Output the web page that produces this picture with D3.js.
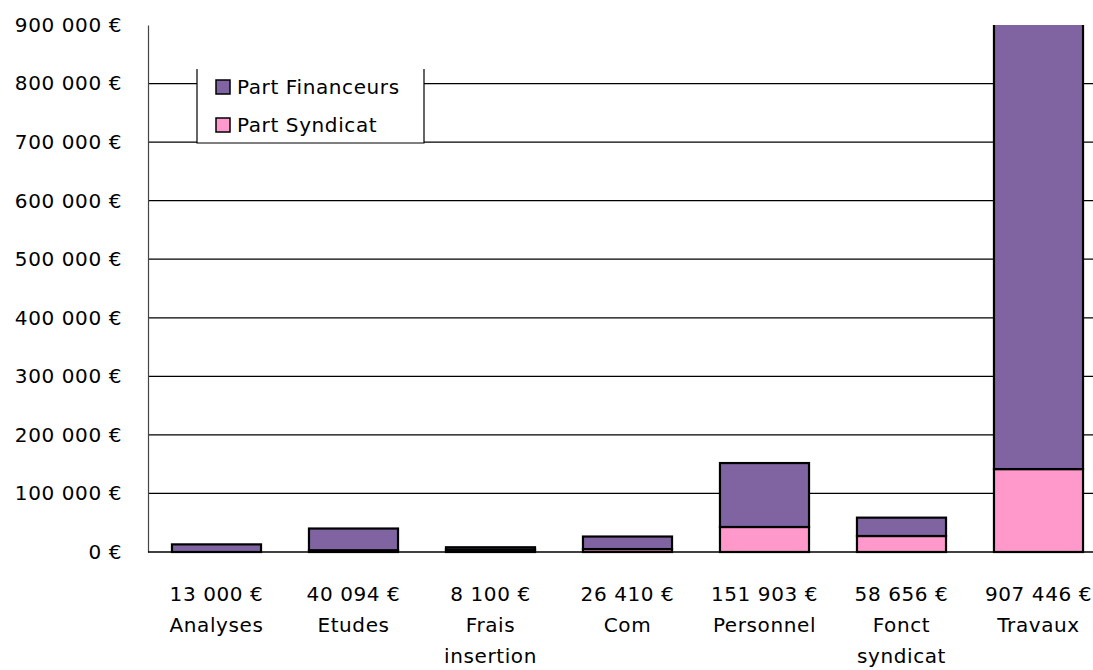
<!DOCTYPE html>
<html><head><meta charset="utf-8">
<script src="https://cdn.jsdelivr.net/npm/d3@7"></script>
<style>body{margin:0;background:#fff}svg{display:block}text{font-family:"DejaVu Sans",sans-serif;fill:#000;font-size:20px;letter-spacing:0.6px}</style>
</head><body><svg id="c" width="1093" height="670"></svg>
<script>
const categories = ["Analyses","Etudes","Frais insertion","Com","Personnel","Fonct syndicat","Travaux"];
const totals = [13000,40094,8100,26410,151903,58656,907446];
const partSyndicat = [0,3000,4000,5000,42700,27300,141600];
const partFinanceurs = totals.map((t,i)=>t-partSyndicat[i]);
const yTicks = [0,100000,200000,300000,400000,500000,600000,700000,800000,900000];
const seriesNames = ["Part Financeurs","Part Syndicat"];
const colors = {"Part Financeurs":"#8064A2","Part Syndicat":"#FF99CC"};

(function(){
const svg = d3.select("#c");
const pL = 148, pR = 1107, pT = 25, pB = 552;
const x = d3.scaleBand().domain(categories).range([pL,pR]).paddingInner(0.35).paddingOuter(0.175);
const y = d3.scaleLinear().domain([0,900000]).range([pB,pT]);
const fmt = v => (v===0?"0":d3.format(",")(v).replace(/,/g," ")) + " €";

svg.append("defs").append("clipPath").attr("id","plot").append("rect")
  .attr("x",pL).attr("y",pT).attr("width",1093-pL).attr("height",pB-pT+2);

// gridlines
svg.append("g").selectAll("line").data(yTicks.filter(d=>d>0 && d<900000)).join("line")
  .attr("x1",pL).attr("x2",1093).attr("y1",d=>y(d)).attr("y2",d=>y(d))
  .attr("stroke","#000").attr("stroke-width",1.2);

// y axis
const ya = svg.append("g").attr("transform",`translate(${pL},0)`)
  .call(d3.axisLeft(y).tickValues(yTicks).tickFormat(fmt).tickSize(0).tickPadding(26));
ya.select(".domain").attr("stroke","#444").attr("stroke-width",1.2);
ya.attr("font-size",null).attr("font-family",null);

// stacked bars
const data = categories.map((c,i)=>({cat:c,"Part Syndicat":partSyndicat[i],"Part Financeurs":partFinanceurs[i]}));
const stack = d3.stack().keys(["Part Syndicat","Part Financeurs"])(data);
const gb = svg.append("g").attr("clip-path","url(#plot)");
stack.forEach(s=>{
  gb.append("g").selectAll("rect").data(s).join("rect")
    .attr("x",d=>x(d.data.cat)).attr("width",x.bandwidth())
    .attr("y",d=>y(d[1])).attr("height",d=>Math.max(0,y(d[0])-y(d[1])))
    .attr("fill",colors[s.key]).attr("stroke","#000").attr("stroke-width",2.2);
});

// baseline
svg.append("line").attr("x1",pL).attr("x2",1093).attr("y1",pB).attr("y2",pB)
  .attr("stroke","#000").attr("stroke-width",1.5);

// x labels
const xl = svg.append("g");
categories.forEach((c,i)=>{
  const cx = x(c)+x.bandwidth()/2;
  const lines = [fmt(totals[i])].concat(c.split(" "));
  lines.forEach((t,j)=>{
    xl.append("text").attr("x",cx).attr("y",601+j*31).attr("text-anchor","middle").text(t);
  });
});

// legend
const lg = svg.append("g");
lg.append("rect").attr("x",197).attr("y",69).attr("width",227).attr("height",74).attr("fill","#fff");
lg.append("path").attr("d","M197,69V143H424V69").attr("fill","none").attr("stroke","#000").attr("stroke-width",1.2);
seriesNames.forEach((n,i)=>{
  lg.append("rect").attr("x",216).attr("y",80+i*38).attr("width",14).attr("height",14)
    .attr("fill",colors[n]).attr("stroke","#000").attr("stroke-width",1.5);
  lg.append("text").attr("x",237).attr("y",94+i*38).text(n);
});
})();
</script></body></html>
